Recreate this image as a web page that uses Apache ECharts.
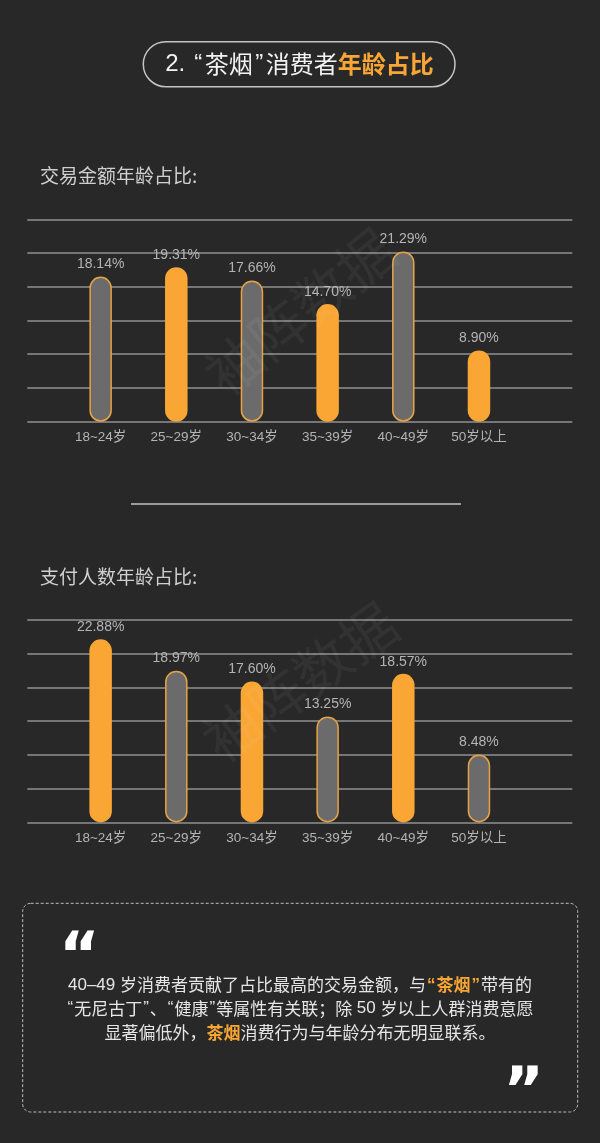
<!DOCTYPE html>
<html>
<head>
<meta charset="utf-8">
<script src="https://cdn.jsdelivr.net/npm/echarts@6/dist/echarts.min.js"></script>
<style>
html,body{margin:0;padding:0;background:#282828;}
#c{width:600px;height:1143px;}
</style>
</head>
<body>
<div id="c"></div>
<script>
const categories = ['18~24岁', '25~29岁', '30~34岁', '35~39岁', '40~49岁', '50岁以上'];
const amountShare = [18.14, 19.31, 17.66, 14.70, 21.29, 8.90];
const payerShare = [22.88, 18.97, 17.60, 13.25, 18.57, 8.48];
const yMax = 25.3;
const ySplits = 6;

const ORANGE = '#f9a634';
const GRAY = '#6b6b6b';
const BORDER = '#e7a246';
const FONT = '"Noto Sans CJK SC", "Liberation Sans", sans-serif';
const NUMFONT = '"Liberation Sans", "Noto Sans CJK SC", sans-serif';

function barData(values, grayFirst) {
  return values.map((v, i) => {
    const gray = grayFirst ? (i % 2 === 0) : (i % 2 === 1);
    return {
      value: v,
      itemStyle: gray
        ? { color: GRAY, borderColor: BORDER, borderWidth: 1.5, borderRadius: 11.5 }
        : { color: ORANGE, borderWidth: 0, borderRadius: 11.5 }
    };
  });
}

const chart = echarts.init(document.getElementById('c'), null, { renderer: 'canvas' });

const lineGridLeft = 27.3, lineGridWidth = 545;
const barGridLeft = 62.8, barGridWidth = 454;
const tops = [219.3, 620];
const h = 202.4;

const grids = [], xAxes = [], yAxes = [], series = [];
tops.forEach((top, k) => {
  grids.push({ left: lineGridLeft, width: lineGridWidth, top: top, height: h });
  grids.push({ left: barGridLeft, width: barGridWidth, top: top, height: h });
  const gi = k * 2;
  xAxes.push({ gridIndex: gi, type: 'category', data: categories, show: false });
  xAxes.push({
    gridIndex: gi + 1, type: 'category', data: categories,
    axisLine: { show: false }, axisTick: { show: false },
    axisLabel: { color: '#b4b4b4', fontSize: 13.5, margin: 9, fontFamily: NUMFONT }
  });
  yAxes.push({
    gridIndex: gi, type: 'value', min: 0, max: yMax, interval: yMax / ySplits,
    axisLine: { show: false }, axisTick: { show: false }, axisLabel: { show: false },
    splitLine: { show: true, lineStyle: { color: '#767676', width: 2 } }
  });
  yAxes.push({
    gridIndex: gi + 1, type: 'value', min: 0, max: yMax, show: false,
    splitLine: { show: false }
  });
  series.push({
    type: 'bar',
    xAxisIndex: gi + 1, yAxisIndex: gi + 1,
    barWidth: 22.5,
    data: barData(k === 0 ? amountShare : payerShare, k === 0),
    label: {
      show: true, position: 'top', distance: 5,
      color: '#b4b4b4', fontSize: 14, fontFamily: NUMFONT,
      formatter: p => p.value.toFixed(2) + '%'
    },
    z: 3
  });
});

const graphic = [
  // watermarks
  { type: 'text', x: 300, y: 312, rotation: 39 * Math.PI / 180, z: 10,
    style: { text: '袖阵数据', fill: 'rgba(255,255,255,0.05)', fontSize: 56, fontFamily: FONT, align: 'center', verticalAlign: 'middle' } },
  { type: 'text', x: 300, y: 682, rotation: 36 * Math.PI / 180, z: 10,
    style: { text: '袖阵数据', fill: 'rgba(255,255,255,0.05)', fontSize: 56, fontFamily: FONT, align: 'center', verticalAlign: 'middle' } },
  // title pill
  { type: 'rect', shape: { x: 143.3, y: 41.7, width: 311.7, height: 45, r: 22.5 },
    style: { fill: 'none', stroke: '#c4c4c4', lineWidth: 1.5 } },
  { type: 'text', x: 299.5, y: 64,
    style: {
      text: '{n|2. }{q|“}{w|茶烟}{q|”}{w|消费者}{o|年龄占比}', align: 'center', verticalAlign: 'middle',
      rich: {
        n: { fill: '#f2f2f2', fontSize: 24, fontFamily: NUMFONT },
        q: { fill: '#f2f2f2', fontSize: 24, fontFamily: NUMFONT, padding: [0, 2.5] },
        w: { fill: '#f2f2f2', fontSize: 24, fontFamily: FONT },
        o: { fill: ORANGE, fontSize: 24, fontWeight: 'bold', fontFamily: FONT }
      }
    } },
  // section titles
  { type: 'text', x: 40, y: 176,
    style: { text: '交易金额年龄占比:', fill: '#cfcfcf', fontSize: 19, fontFamily: FONT, align: 'left', verticalAlign: 'middle' } },
  { type: 'text', x: 40, y: 577,
    style: { text: '支付人数年龄占比:', fill: '#cfcfcf', fontSize: 19, fontFamily: FONT, align: 'left', verticalAlign: 'middle' } },
  // separator
  { type: 'line', shape: { x1: 131, y1: 504, x2: 461, y2: 504 },
    style: { stroke: '#9a9a9a', lineWidth: 2 } },
  // text box
  { type: 'rect', shape: { x: 22.7, y: 903.3, width: 555, height: 208.7, r: 8 },
    style: { fill: 'none', stroke: '#bdbdbd', lineWidth: 1, lineDash: [3, 2] } },
  { type: 'text', x: 59, y: 960,
    style: { text: '“', fill: '#ffffff', fontSize: 62, fontWeight: 'bold', fontFamily: '"DejaVu Sans", sans-serif', align: 'left', verticalAlign: 'middle' } },
  { type: 'text', x: 544, y: 1095,
    style: { text: '”', fill: '#ffffff', fontSize: 62, fontWeight: 'bold', fontFamily: '"DejaVu Sans", sans-serif', align: 'right', verticalAlign: 'middle' } }
];

const bodyLines = [
  '{n|40–49 }{t|岁消费者贡献了占比最高的交易金额，与}{oq|“}{o|茶烟}{oq|”}{t|带有的}',
  '{q|“}{t|无尼古丁}{q|”}{t|、}{q|“}{t|健康}{q|”}{t|等属性有关联；除}{n| 50 }{t|岁以上人群消费意愿}',
  '{t|显著偏低外，}{o|茶烟}{t|消费行为与年龄分布无明显联系。}'
];
const bodyY = [985, 1008.5, 1033];
bodyLines.forEach((txt, i) => {
  graphic.push({
    type: 'text', x: 300, y: bodyY[i],
    style: {
      text: txt, align: 'center', verticalAlign: 'middle',
      rich: {
        t: { fill: '#e6e6e6', fontSize: 17, fontFamily: FONT },
        n: { fill: '#e6e6e6', fontSize: 17, fontFamily: NUMFONT },
        q: { fill: '#e6e6e6', fontSize: 17, fontFamily: NUMFONT, padding: [0, 1] },
        oq: { fill: ORANGE, fontSize: 17, fontWeight: 'bold', fontFamily: NUMFONT, padding: [0, 1] },
        o: { fill: ORANGE, fontSize: 17, fontWeight: 'bold', fontFamily: FONT }
      }
    }
  });
});

chart.setOption({
  backgroundColor: '#282828',
  animation: false,
  grid: grids,
  xAxis: xAxes,
  yAxis: yAxes,
  series: series,
  graphic: graphic
});
</script>
</body>
</html>
